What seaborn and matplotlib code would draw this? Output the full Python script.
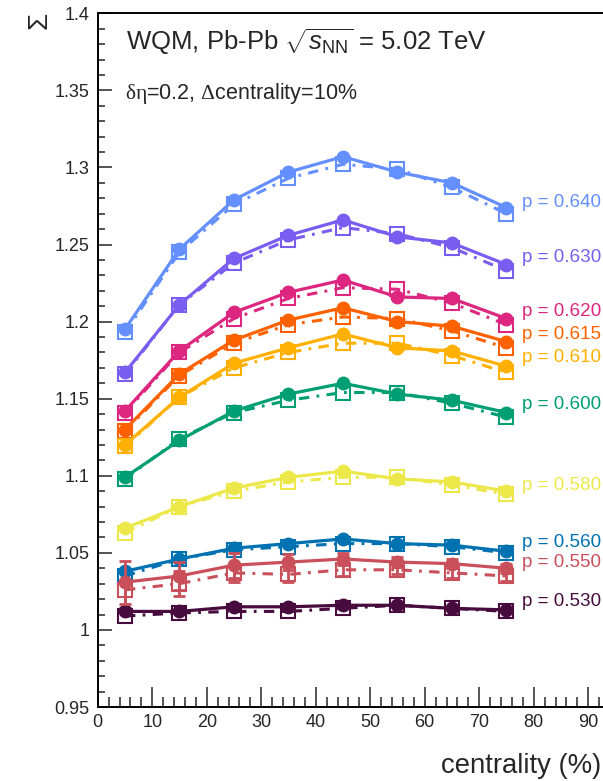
import numpy as np
import pandas as pd
import matplotlib
matplotlib.use("Agg")
import matplotlib.pyplot as plt
from matplotlib.ticker import MultipleLocator, FixedLocator, FuncFormatter
import seaborn as sns

# centrality bin centres (%)
centrality = [5, 15, 25, 35, 45, 55, 65, 75]

p_values = ["0.640", "0.630", "0.620", "0.615", "0.610",
            "0.600", "0.580", "0.560", "0.550", "0.530"]

colors = ["#648FFF", "#785EF0", "#DC267F", "#FE6100", "#FFB000",
          "#009E73", "#EDE84A", "#0072B2", "#C9505A", "#470B3E"]

# Sigma, solid line / filled circles
sigma_solid = {
    "0.640": [1.195, 1.247, 1.279, 1.297, 1.307, 1.297, 1.290, 1.274],
    "0.630": [1.167, 1.211, 1.241, 1.256, 1.266, 1.255, 1.251, 1.237],
    "0.620": [1.142, 1.181, 1.206, 1.219, 1.227, 1.216, 1.215, 1.202],
    "0.615": [1.130, 1.166, 1.188, 1.201, 1.209, 1.200, 1.197, 1.187],
    "0.610": [1.120, 1.151, 1.173, 1.183, 1.192, 1.183, 1.181, 1.171],
    "0.600": [1.099, 1.123, 1.142, 1.153, 1.160, 1.153, 1.149, 1.141],
    "0.580": [1.066, 1.080, 1.092, 1.099, 1.103, 1.098, 1.096, 1.090],
    "0.560": [1.038, 1.046, 1.053, 1.056, 1.059, 1.056, 1.055, 1.051],
    "0.550": [1.031, 1.035, 1.042, 1.044, 1.046, 1.044, 1.043, 1.040],
    "0.530": [1.012, 1.012, 1.015, 1.015, 1.016, 1.016, 1.014, 1.013],
}

# Sigma, dash-dotted line / open squares
sigma_dashdot = {
    "0.640": [1.193, 1.245, 1.276, 1.293, 1.302, 1.299, 1.287, 1.270],
    "0.630": [1.166, 1.211, 1.238, 1.253, 1.261, 1.257, 1.248, 1.233],
    "0.620": [1.141, 1.180, 1.202, 1.215, 1.222, 1.221, 1.212, 1.198],
    "0.615": [1.129, 1.165, 1.186, 1.198, 1.203, 1.202, 1.194, 1.183],
    "0.610": [1.119, 1.151, 1.170, 1.180, 1.186, 1.186, 1.178, 1.167],
    "0.600": [1.098, 1.124, 1.141, 1.149, 1.154, 1.154, 1.147, 1.138],
    "0.580": [1.063, 1.080, 1.090, 1.096, 1.099, 1.099, 1.094, 1.088],
    "0.560": [1.035, 1.046, 1.052, 1.054, 1.056, 1.056, 1.054, 1.050],
    "0.550": [1.026, 1.030, 1.037, 1.036, 1.039, 1.039, 1.037, 1.035],
    "0.530": [1.009, 1.011, 1.012, 1.012, 1.014, 1.016, 1.014, 1.012],
}

# statistical uncertainties of the p = 0.550 curves
err_550_solid = [0.014, 0.009, 0.008, 0.005, 0.004, 0.003, 0.003, 0.003]
err_550_dashdot = [0.012, 0.008, 0.006, 0.005, 0.004, 0.003, 0.003, 0.003]

# x-axis tick labels
x_ticks = [0, 10, 20, 30, 40, 50, 60, 70, 80, 90]

# label anchor heights (Sigma units) next to the last point
label_y = [1.2773, 1.2416, 1.2065, 1.1916, 1.1766,
           1.1461, 1.0935, 1.0565, 1.0435, 1.0182]

sns.set_style("ticks")
plt.rcParams["font.family"] = ["Liberation Sans", "DejaVu Sans"]
plt.rcParams["mathtext.fontset"] = "custom"
plt.rcParams["mathtext.rm"] = "Liberation Sans"
plt.rcParams["mathtext.it"] = "Liberation Sans:italic"
plt.rcParams["mathtext.bf"] = "Liberation Sans:bold"
plt.rcParams["mathtext.sf"] = "Liberation Serif"

W, H = 603, 781
fig = plt.figure(figsize=(W / 100, H / 100), dpi=100)
left, top, bottom = 97.7, 13.3, 707.0
ax = fig.add_axes([left / W, 1 - bottom / H, 545.0 / W, (bottom - top) / H])

dash_pattern = (0, (3.4, 2.4, 0.9, 2.4))

for p, c in zip(p_values, colors):
    df_d = pd.DataFrame({"centrality": centrality, "sigma": sigma_dashdot[p]})
    sns.lineplot(data=df_d, x="centrality", y="sigma", ax=ax, color=c,
                 linewidth=2.2, linestyle=dash_pattern, marker="s",
                 markersize=9.5, markerfacecolor="none", markeredgecolor=c,
                 markeredgewidth=1.5, zorder=3)
    df_s = pd.DataFrame({"centrality": centrality, "sigma": sigma_solid[p]})
    sns.lineplot(data=df_s, x="centrality", y="sigma", ax=ax, color=c,
                 linewidth=2.3, marker="o", markersize=10,
                 markeredgecolor=c, markeredgewidth=0, zorder=4)

c550 = colors[p_values.index("0.550")]
ax.errorbar(centrality, sigma_dashdot["0.550"], yerr=err_550_dashdot, fmt="none",
            ecolor=c550, elinewidth=2, capsize=4, capthick=2, zorder=3)
ax.errorbar(centrality, sigma_solid["0.550"], yerr=err_550_solid, fmt="none",
            ecolor=c550, elinewidth=2, capsize=4, capthick=2, zorder=4)

for p, c, ly in zip(p_values, colors, label_y):
    ax.text(77.9, ly, f"p = {p}", color=c, fontsize=13.6,
            ha="left", va="center", zorder=5)

ax.set_xlim(0, 100)
ax.set_ylim(0.95, 1.4)
ax.xaxis.set_major_locator(FixedLocator(x_ticks + [100]))
ax.xaxis.set_major_formatter(FuncFormatter(lambda v, _: f"{v:g}" if v in x_ticks else ""))
ax.xaxis.set_minor_locator(MultipleLocator(2))
ax.yaxis.set_major_locator(MultipleLocator(0.05))
ax.yaxis.set_minor_locator(MultipleLocator(0.01))
ax.yaxis.set_major_formatter(FuncFormatter(lambda v, _: f"{v:g}"))

ax.tick_params(axis="x", which="major", direction="in", length=14.5, width=1.1,
               labelsize=13, pad=5)
ax.tick_params(axis="x", which="minor", direction="in", length=7, width=1.1)
ax.tick_params(axis="y", which="major", direction="in", length=10, width=1.1,
               labelsize=13, pad=6)
ax.tick_params(axis="y", which="minor", direction="in", length=5, width=1.1)
for s in ax.spines.values():
    s.set_linewidth(1.4)
    s.set_color("black")
ax.set_xlabel("")
ax.set_ylabel("")

fig.text(125.5 / W, 1 - 42 / H, r"WQM, Pb-Pb $\sqrt{s_{\mathrm{NN}}}$ = 5.02 TeV",
         fontsize=18.5, ha="left", va="center")
fig.text(125 / W, 1 - 93 / H, r"$\mathsf{δη}$=0.2, $\mathsf{Δ}$centrality=10%",
         fontsize=15.5, ha="left", va="center")
fig.text(39 / W, 1 - 20 / H, "Σ", fontsize=20, rotation=90,
         ha="center", va="center")
fig.text(441 / W, 1 - 766 / H, "centrality (%)", fontsize=19.8,
         ha="left", va="center")

fig.savefig("out.png", dpi=100)
